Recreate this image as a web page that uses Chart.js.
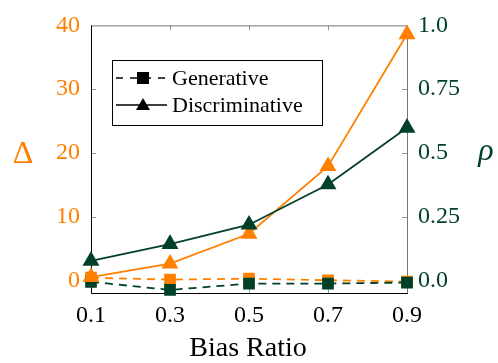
<!DOCTYPE html>
<html>
<head>
<meta charset="utf-8">
<script src="https://cdn.jsdelivr.net/npm/chart.js@4"></script>
<style>
  html, body { margin: 0; padding: 0; background: #fff; }
</style>
</head>
<body>
<canvas id="myChart" width="498" height="363"></canvas>
<script>
// data
const biasRatio = [0.1, 0.3, 0.5, 0.7, 0.9];
const deltaGenerative = [0.4, 0.1, 0.25, 0.0, -0.2];
const deltaDiscriminative = [0.5, 2.6, 7.3, 17.9, 38.6];
const rhoGenerative = [-0.006, -0.038, -0.013, -0.013, -0.009];
const rhoDiscriminative = [0.076, 0.142, 0.218, 0.376, 0.598];
const xTicks = [0.1, 0.3, 0.5, 0.7, 0.9];
const deltaTicks = [0, 10, 20, 30, 40];
const rhoTicks = [0, 0.25, 0.5, 0.75, 1.0];
const rhoTickLabels = ['0.0', '0.25', '0.5', '0.75', '1.0'];

const ORANGE = 'rgb(255,128,0)';
const GREEN = 'rgb(0,64,40)';
const SERIF = '"Liberation Serif", "DejaVu Serif", serif';

function pts(ys) {
    return biasRatio.map((x, i) => ({ x: x, y: ys[i] }));
}

// frame, inner tick marks, legend and axis titles
const decor = {
    id: 'decor',
    beforeDatasetsDraw(chart) {
        const ctx = chart.ctx;
        const a = chart.chartArea;
        const s = chart.scales;
        ctx.save();
        ctx.lineWidth = 1;
        ctx.strokeStyle = '#999';
        ctx.beginPath();
        xTicks.slice(1, -1).forEach(v => {
            const x = Math.round(s.x.getPixelForValue(v)) + 0.5;
            ctx.moveTo(x, a.top); ctx.lineTo(x, a.top + 5);
            ctx.moveTo(x, a.bottom); ctx.lineTo(x, a.bottom - 5);
        });
        deltaTicks.slice(1, -1).forEach(v => {
            const y = Math.round(s.yL.getPixelForValue(v)) + 0.5;
            ctx.moveTo(a.left, y); ctx.lineTo(a.left + 5, y);
        });
        rhoTicks.slice(1, -1).forEach(v => {
            const y = Math.round(s.yR.getPixelForValue(v)) + 0.5;
            ctx.moveTo(a.right, y); ctx.lineTo(a.right - 5, y);
        });
        ctx.stroke();
        // top and right edges grey
        ctx.strokeStyle = '#777';
        ctx.beginPath();
        ctx.moveTo(a.left, a.top + 0.5); ctx.lineTo(a.right + 0.5, a.top + 0.5);
        ctx.lineTo(a.right + 0.5, a.bottom);
        ctx.stroke();
        // left and bottom edges black
        ctx.strokeStyle = '#000';
        ctx.beginPath();
        ctx.moveTo(a.left + 0.5, a.top); ctx.lineTo(a.left + 0.5, a.bottom + 0.5);
        ctx.lineTo(a.right + 1, a.bottom + 0.5);
        ctx.stroke();
        ctx.restore();
    },
    afterDatasetsDraw(chart) {
        const ctx = chart.ctx;
        ctx.save();
        // legend box
        const bx = 112, by = 60, bw = 210, bh = 65;
        ctx.fillStyle = '#fff';
        ctx.fillRect(bx, by, bw, bh);
        ctx.strokeStyle = '#000';
        ctx.lineWidth = 1;
        ctx.strokeRect(bx + 0.5, by + 0.5, bw, bh);
        const rows = [
            { label: 'Generative', dash: [7, 7], marker: 'rect', y: by + 18 },
            { label: 'Discriminative', dash: [], marker: 'triangle', y: by + 45 }
        ];
        rows.forEach(r => {
            ctx.strokeStyle = '#000';
            ctx.lineWidth = 1.6;
            ctx.setLineDash(r.dash);
            ctx.beginPath();
            ctx.moveTo(bx + 4, r.y); ctx.lineTo(bx + 55, r.y);
            ctx.stroke();
            ctx.setLineDash([]);
            ctx.fillStyle = '#000';
            const cx = bx + 31;
            if (r.marker === 'rect') {
                ctx.fillRect(cx - 6, r.y - 6, 12, 12);
            } else {
                ctx.beginPath();
                ctx.moveTo(cx, r.y - 7); ctx.lineTo(cx + 7, r.y + 5); ctx.lineTo(cx - 7, r.y + 5);
                ctx.closePath(); ctx.fill();
            }
            ctx.font = '22px ' + SERIF;
            ctx.textBaseline = 'middle';
            ctx.textAlign = 'left';
            ctx.fillText(r.label, bx + 60, r.y + 1);
        });
        // axis titles
        ctx.textAlign = 'center';
        ctx.textBaseline = 'middle';
        ctx.fillStyle = ORANGE;
        ctx.font = '32px ' + SERIF;
        ctx.fillText('\u0394', 23, 155);
        ctx.fillStyle = GREEN;
        ctx.font = 'italic 32px ' + SERIF;
        ctx.fillText('\u03C1', 486, 152);
        ctx.fillStyle = '#000';
        ctx.font = '28px ' + SERIF;
        ctx.fillText('Bias Ratio', 248, 349);
        ctx.restore();
    }
};

const ctx = document.getElementById('myChart').getContext('2d');
const myChart = new Chart(ctx, {
    type: 'line',
    data: {
        datasets: [
            {
                label: 'Generative \u0394',
                data: pts(deltaGenerative),
                yAxisID: 'yL',
                borderColor: ORANGE,
                backgroundColor: ORANGE,
                borderDash: [8, 6],
                borderWidth: 1.8,
                pointStyle: 'rect',
                pointRadius: 7,
                order: 4
            },
            {
                label: 'Discriminative \u0394',
                data: pts(deltaDiscriminative),
                yAxisID: 'yL',
                borderColor: ORANGE,
                backgroundColor: ORANGE,
                borderWidth: 1.8,
                pointStyle: 'triangle',
                pointRadius: 8,
                order: 2
            },
            {
                label: 'Generative \u03C1',
                data: pts(rhoGenerative),
                yAxisID: 'yR',
                borderColor: GREEN,
                backgroundColor: GREEN,
                borderDash: [8, 6],
                borderWidth: 1.8,
                pointStyle: 'rect',
                pointRadius: 7,
                order: 3
            },
            {
                label: 'Discriminative \u03C1',
                data: pts(rhoDiscriminative),
                yAxisID: 'yR',
                borderColor: GREEN,
                backgroundColor: GREEN,
                borderWidth: 1.8,
                pointStyle: 'triangle',
                pointRadius: 8,
                order: 1
            }
        ]
    },
    options: {
        responsive: false,
        animation: false,
        devicePixelRatio: 1,
        clip: false,
        layout: { padding: { top: 17, left: 0, right: 0, bottom: 0 } },
        plugins: { legend: { display: false }, tooltip: { enabled: false } },
        elements: { line: { tension: 0 } },
        scales: {
            x: {
                type: 'linear',
                min: 0.1,
                max: 0.9,
                grid: { display: false, drawTicks: false },
                border: { display: false },
                afterBuildTicks: s => { s.ticks = xTicks.map(v => ({ value: v })); },
                afterFit: s => { s.height = 70; },
                ticks: {
                    padding: 8,
                    color: '#000',
                    font: { family: SERIF, size: 24 },
                    callback: v => v.toFixed(1)
                }
            },
            yL: {
                type: 'linear',
                position: 'left',
                min: -2,
                max: 40,
                grid: { display: false, drawTicks: false },
                border: { display: false },
                afterBuildTicks: s => { s.ticks = deltaTicks.map(v => ({ value: v })); },
                afterFit: s => { s.width = 91; },
                ticks: {
                    padding: 11,
                    color: ORANGE,
                    font: { family: SERIF, size: 24 }
                }
            },
            yR: {
                type: 'linear',
                position: 'right',
                min: -0.05,
                max: 1.0,
                grid: { display: false, drawTicks: false },
                border: { display: false },
                afterBuildTicks: s => { s.ticks = rhoTicks.map(v => ({ value: v })); },
                afterFit: s => { s.width = 91; },
                ticks: {
                    padding: 11,
                    color: GREEN,
                    font: { family: SERIF, size: 24 },
                    callback: (v) => rhoTickLabels[rhoTicks.indexOf(v)]
                }
            }
        }
    },
    plugins: [decor]
});
</script>
</body>
</html>
